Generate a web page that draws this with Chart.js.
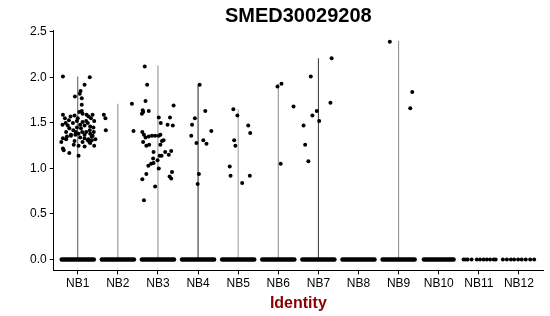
<!DOCTYPE html>
<html>
<head>
<meta charset="utf-8">
<script src="https://cdn.jsdelivr.net/npm/chart.js@4"></script>
<style>
  body { margin: 0; background: #fff; }
</style>
</head>
<body>
<canvas id="vln" width="550" height="316"></canvas>
<script>
// groups on the x axis
var categories = ["NB1", "NB2", "NB3", "NB4", "NB5", "NB6", "NB7", "NB8", "NB9", "NB10", "NB11", "NB12"];
var yTicks = [0, 0.5, 1, 1.5, 2, 2.5];

// top of each (very thin) violin = max expression in the group
var violinMax = [2.01, 1.71, 2.13, 1.92, 1.65, 1.93, 2.21, 0, 2.40, 0, 0, 0];

// non-zero expression values per group and their jitter (in group units)
var pointValues = [
  [2.01, 2.00, 1.92, 1.85, 1.82, 1.79, 1.77, 1.70, 1.63, 1.59,
   1.55, 1.53, 1.57, 1.58, 1.52, 1.62, 1.60, 1.59, 1.57, 1.55,
   1.59, 1.52, 1.52, 1.51, 1.48, 1.47, 1.46, 1.45, 1.45, 1.42,
   1.44, 1.40, 1.33, 1.35, 1.37, 1.37, 1.38, 1.40, 1.40, 1.38,
   1.36, 1.33, 1.32, 1.31, 1.29, 1.32, 1.36, 1.30, 1.34, 1.37,
   1.31, 1.35, 1.32, 1.28, 1.29, 1.22, 1.20, 1.17, 1.14, 1.25,
   1.24, 1.25, 1.26, 1.29, 1.48, 1.50, 1.50, 1.55, 1.50, 1.47,
   1.44, 1.40, 1.42, 1.40],
  [1.71, 1.59, 1.55, 1.42, 1.41],
  [2.12, 1.92, 1.74, 1.64, 1.62, 1.63, 1.60, 1.69, 1.56, 1.56,
   1.50, 1.48, 1.47, 1.40, 1.37, 1.34, 1.35, 1.36, 1.36, 1.36,
   1.37, 1.30, 1.31, 1.29, 1.25, 1.26, 1.26, 1.18, 1.18, 1.15,
   1.19, 1.14, 1.14, 1.09, 1.11, 1.06, 1.05, 1.03, 1.00, 0.94,
   0.88, 0.96, 0.91, 0.89, 0.80, 0.65],
  [1.92, 1.63, 1.55, 1.48, 1.41, 1.36, 1.31, 1.27, 1.28, 0.94, 0.83],
  [1.65, 1.58, 1.47, 1.39, 1.31, 1.25, 1.02, 0.92, 0.84, 0.92],
  [1.90, 1.93, 1.05, 1.68],
  [2.21, 2.01, 1.72, 1.63, 1.58, 1.52, 1.47, 1.26, 1.08],
  [],
  [2.39, 1.84, 1.66],
  [],
  [],
  []
];
var pointJitter = [
  [-0.37, 0.30, 0.17, 0.07, 0.05, -0.07, 0.10, 0.10, 0.10, -0.37,
   -0.32, -0.22, -0.18, -0.08, -0.02, 0.04, 0.12, 0.22, 0.27, 0.33,
   0.37, 0.41, 0.21, 0.12, 0.06, 0.17, 0.31, 0.39, -0.02, -0.11,
   -0.21, -0.29, -0.37, -0.27, -0.17, -0.06, 0.02, 0.11, 0.21, 0.31,
   0.37, 0.17, 0.27, 0.35, -0.41, -0.29, -0.17, -0.08, 0.06, 0.17,
   0.25, 0.35, 0.44, 0.31, 0.12, -0.37, -0.35, -0.21, 0.02, 0.02,
   0.17, 0.41, -0.10, 0.29, -0.38, -0.30, -0.12, 0.00, 0.25, -0.25,
   0.08, -0.05, 0.30, 0.40],
  [0.35, -0.35, -0.31, -0.30, 0.39],
  [-0.33, -0.27, -0.31, -0.38, -0.37, -0.23, -0.40, 0.39, 0.02, 0.30,
   0.07, 0.24, 0.37, -0.39, -0.35, -0.31, -0.23, -0.15, -0.07, 0.02,
   0.06, 0.10, 0.14, -0.37, -0.29, -0.22, 0.06, -0.11, 0.18, 0.27,
   0.33, 0.04, 0.09, -0.01, -0.12, -0.11, -0.17, -0.24, 0.02, -0.29,
   -0.39, 0.35, 0.29, 0.33, -0.07, -0.35],
  [0.04, 0.18, -0.08, -0.15, 0.33, -0.17, 0.13, 0.21, -0.04, 0.02, -0.01],
  [-0.12, -0.02, 0.25, 0.30, -0.10, -0.07, -0.21, -0.19, 0.10, 0.29],
  [-0.02, 0.08, 0.06, 0.38],
  [0.33, -0.19, 0.30, -0.04, -0.15, 0.02, -0.37, -0.33, -0.25],
  [],
  [-0.22, 0.34, 0.29],
  [],
  [],
  []
];

// cells at zero: dense groups are a solid run of dots, sparse ones listed
var zeroRunWidth = [0.4, 0.4, 0.4, 0.4, 0.4, 0.4, 0.4, 0.4, 0.4, 0.37, 0, 0];
var zeroDots = [[], [], [], [], [], [], [], [], [], [],
  [-0.38, -0.33, -0.28, -0.18, -0.05, 0.03, 0.12, 0.20, 0.28, 0.37, 0.42],
  [-0.40, -0.30, -0.20, -0.12, -0.02, 0.07, 0.17, 0.28, 0.38]];

var violinColors = ["#555", "#888", "#888", "#222", "#999", "#888", "#333", "#888", "#888", "#888", "#888", "#888"];

document.addEventListener("DOMContentLoaded", function () {
  Chart.defaults.font.family = "'Liberation Sans', Arial, sans-serif";
  Chart.defaults.color = "#000";

  var datasets = [];
  categories.forEach(function (name, i) {
    var x = i + 1;

    if (violinMax[i] > 0) {
      datasets.push({
        data: [{ x: x, y: 0 }, { x: x, y: violinMax[i] }],
        showLine: true,
        borderColor: violinColors[i],
        borderWidth: 1,
        pointRadius: 0,
        order: 3
      });
    }

    if (zeroRunWidth[i] > 0) {
      datasets.push({
        data: [{ x: x - zeroRunWidth[i], y: 0 }, { x: x + zeroRunWidth[i], y: 0 }],
        showLine: true,
        borderColor: "#000",
        borderWidth: 4.5,
        borderCapStyle: "round",
        pointRadius: 0,
        order: 2
      });
    }

    var pts = [];
    zeroDots[i].forEach(function (j) {
      pts.push({ x: x + j, y: 0 });
    });
    pointValues[i].forEach(function (v, k) {
      pts.push({ x: x + pointJitter[i][k], y: v });
    });
    datasets.push({
      data: pts,
      pointRadius: 2,
      pointBorderWidth: 0,
      pointBackgroundColor: "#000",
      order: 1
    });
  });

  new Chart(document.getElementById("vln").getContext("2d"), {
    type: "scatter",
    data: { datasets: datasets },
    options: {
      responsive: false,
      animation: false,
      layout: { padding: { left: 27, right: 7, top: 0, bottom: 0 } },
      plugins: {
        legend: { display: false },
        tooltip: { enabled: false },
        title: {
          display: true,
          fullSize: false,
          text: "SMED30029208",
          color: "#000",
          font: { size: 20, weight: "bold" },
          padding: { top: 4, bottom: 2 }
        }
      },
      scales: {
        x: {
          type: "linear",
          min: 0.4,
          max: 12.6,
          afterBuildTicks: function (axis) {
            axis.ticks = categories.map(function (c, i) { return { value: i + 1 }; });
          },
          ticks: {
            autoSkip: false,
            maxRotation: 0,
            padding: 2,
            color: "#000",
            font: { size: 12 },
            callback: function (v) { return categories[Math.round(v) - 1]; }
          },
          grid: { drawOnChartArea: false, color: "#000", tickLength: 4 },
          border: { color: "#000", width: 1 },
          title: {
            display: true,
            text: "Identity",
            color: "#8B0000",
            font: { size: 16, weight: "bold" },
            padding: { top: 1, bottom: 3 }
          }
        },
        y: {
          min: -0.12,
          max: 2.52,
          afterBuildTicks: function (axis) {
            axis.ticks = yTicks.map(function (v) { return { value: v }; });
          },
          ticks: {
            padding: 3,
            color: "#000",
            font: { size: 12 },
            callback: function (v) { return v.toFixed(1); }
          },
          grid: { drawOnChartArea: false, color: "#000", tickLength: 4 },
          border: { color: "#000", width: 1 }
        }
      }
    }
  });
});
</script>
</body>
</html>
